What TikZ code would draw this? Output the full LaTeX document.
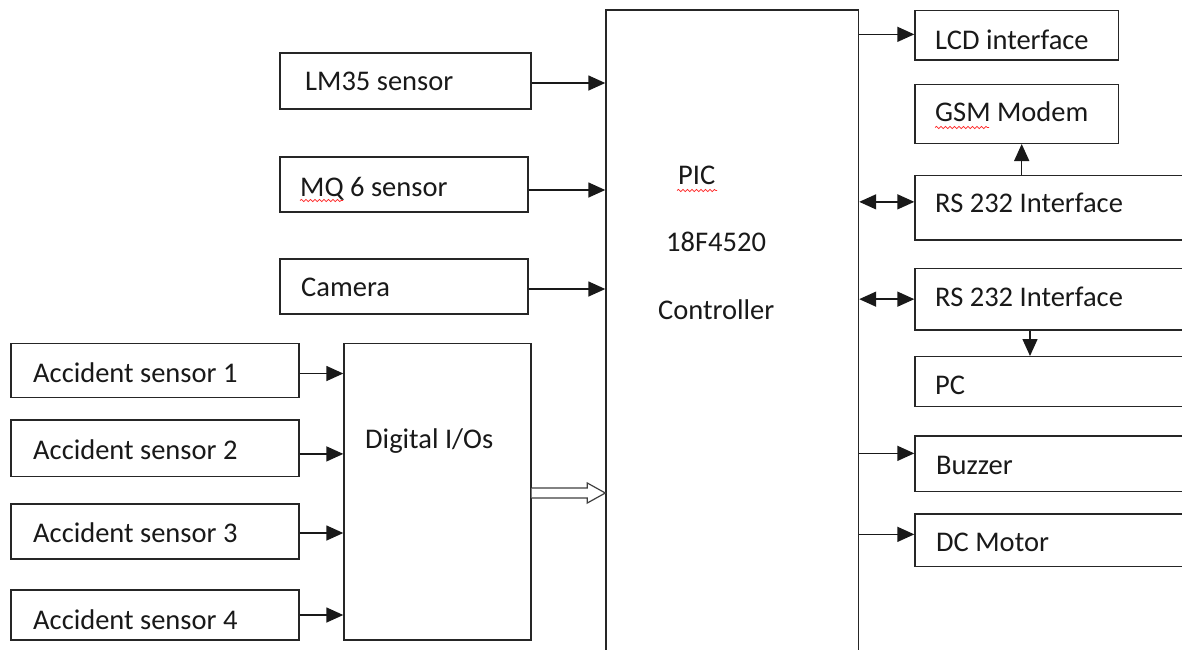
\documentclass[tikz,border=0pt]{standalone}
\usepackage{fontspec}
\setmainfont{Carlito}
\usetikzlibrary{arrows.meta,decorations.pathmorphing,calc}
\begin{document}
\begin{tikzpicture}[x=1pt,y=-1pt,
  box/.style={draw=black!85,line width=1.4pt,inner sep=0pt,fill=none},
  txt/.style={inner sep=0pt,anchor=base west,font=\fontsize{28.5}{34}\selectfont,text=black!90},
  conn/.style={line width=1.5pt,draw=black!90,-{Triangle[length=17pt,width=15pt]}},
  bconn/.style={line width=1.5pt,draw=black!90,{Triangle[length=17pt,width=15pt]}-{Triangle[length=17pt,width=15pt]}},
  squig/.style={draw=red!85,line width=0.7pt,decorate,decoration={snake,amplitude=1.1pt,segment length=4.5pt}}]
\useasboundingbox (0,0) rectangle (1182,649);
\clip (0,0) rectangle (1182,649);
\fill[white] (0,0) rectangle (1182,649);
% boxes
\node[box,minimum width=251pt,minimum height=56pt] (lm) at (405.5,81) {};
\node[box,minimum width=248pt,minimum height=55pt] (mq) at (404,184.5) {};
\node[box,minimum width=248pt,minimum height=55pt] (cam) at (404,286.5) {};
\node[box,minimum width=252.5pt,minimum height=690pt] (ctrl) at (732.25,355) {};
\node[box,minimum width=187pt,minimum height=296.7pt] (dio) at (437.5,491.7) {};
\node[box,minimum width=288pt,minimum height=54.4pt] (as1) at (155,370.5) {};
\node[box,minimum width=288pt,minimum height=56.7pt] (as2) at (155,448.4) {};
\node[box,minimum width=288pt,minimum height=55pt] (as3) at (155,531.5) {};
\node[box,minimum width=288pt,minimum height=50pt] (as4) at (155,615) {};
\node[box,minimum width=203.3pt,minimum height=49.3pt] (lcd) at (1016.65,35.35) {};
\node[box,minimum width=203.3pt,minimum height=59pt] (gsm) at (1016.65,113.8) {};
\node[box,minimum width=280pt,minimum height=64.3pt] (rs1) at (1055,207.85) {};
\node[box,minimum width=280pt,minimum height=61.7pt] (rs2) at (1055,299.15) {};
\node[box,minimum width=280pt,minimum height=50pt] (pc) at (1055,381.7) {};
\node[box,minimum width=280pt,minimum height=55.7pt] (buz) at (1055,463.85) {};
\node[box,minimum width=280pt,minimum height=52.7pt] (dc) at (1055,540.35) {};
% texts
\node[txt] (lmT) at (305,90) {LM35 sensor};
\node[txt] (mqT) at (300,196) {MQ 6 sensor};
\node[txt] (camT) at (301,296) {Camera};
\node[txt] (picT) at (678,184) {PIC};
\node[txt] (numT) at (666,251.5) {18F4520};
\node[txt] (ctrlT) at (658,319) {Controller};
\node[txt] (dioT) at (365,448) {Digital I/Os};
\node[txt] (as1T) at (33,382.5) {Accident sensor 1};
\node[txt] (as2T) at (33,459) {Accident sensor 2};
\node[txt] (as3T) at (33,542.5) {Accident sensor 3};
\node[txt] (as4T) at (33,629) {Accident sensor 4};
\node[txt] (lcdT) at (935,49) {LCD interface};
\node[txt] (gsmT) at (935,121.5) {GSM Modem};
\node[txt] (rs1T) at (935,212.5) {RS 232 Interface};
\node[txt] (rs2T) at (935,306) {RS 232 Interface};
\node[txt] (pcT) at (935,394) {PC};
\node[txt] (buzT) at (936,474) {Buzzer};
\node[txt] (dcT) at (936,551) {DC Motor};
% spelling squiggles
\draw[squig] (300,200.5) -- (343,200.5);
\draw[squig] (677,190.5) -- (717,190.5);
\draw[squig] (935,127.5) -- (989,127.5);
% left connectors
\draw[conn] ([yshift=-2pt]lm.east) -- ([yshift=-2pt]lm.east -| ctrl.west);
\draw[conn] ([yshift=-5.5pt]mq.east) -- ([yshift=-5.5pt]mq.east -| ctrl.west);
\draw[conn] ([yshift=-2.5pt]cam.east) -- ([yshift=-2.5pt]cam.east -| ctrl.west);
\draw[conn] ([yshift=-3pt]as1.east) -- ([yshift=-3pt]as1.east -| dio.west);
\draw[conn] ([yshift=-5.5pt]as2.east) -- ([yshift=-5.5pt]as2.east -| dio.west);
\draw[conn] ([yshift=-1.5pt]as3.east) -- ([yshift=-1.5pt]as3.east -| dio.west);
\draw[conn] (as4.east) -- (as4.east -| dio.west);
% hollow arrow
\coordinate (ha) at ([yshift=-1.3pt]dio.east);
\coordinate (hb) at ([yshift=-1.3pt]dio.east -| ctrl.west);
\draw[line width=1.2pt,draw=black!75,fill=white,line join=miter]
  ($(ha)+(0,-5)$) -- ($(hb)+(-18,-5)$) -- ($(hb)+(-18,-10)$) -- (hb)
  -- ($(hb)+(-18,10)$) -- ($(hb)+(-18,5)$) -- ($(ha)+(0,5)$);
% right connectors
\draw[conn] ([yshift=1pt]lcd.west -| ctrl.east) -- ([yshift=1pt]lcd.west);
\draw[bconn] ([yshift=6pt]rs1.west -| ctrl.east) -- ([yshift=6pt]rs1.west);
\draw[bconn] (rs2.west -| ctrl.east) -- (rs2.west);
\draw[conn] ([yshift=10.5pt]buz.west -| ctrl.east) -- ([yshift=10.5pt]buz.west);
\draw[conn] ([yshift=6pt]dc.west -| ctrl.east) -- ([yshift=6pt]dc.west);
\coordinate (gx) at (1021.7,0);
\coordinate (px) at (1030,0);
\draw[conn] (rs1.north -| gx) -- (gsm.south -| gx);
\draw[conn] (rs2.south -| px) -- (pc.north -| px);
\end{tikzpicture}
\end{document}
